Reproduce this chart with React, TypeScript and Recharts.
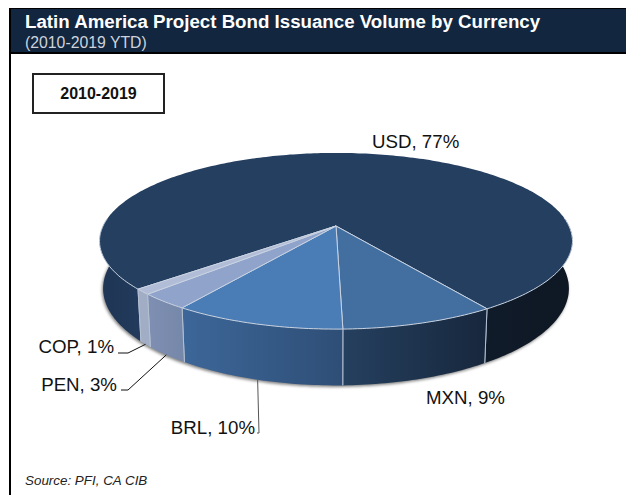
import { Pie, PieChart } from 'recharts';

const currencies = ['USD', 'MXN', 'BRL', 'PEN', 'COP'];
const shares = [77, 9, 10, 3, 1];
const topColors = ['#253f60', '#426fa0', '#4a7cb6', '#8fa3cb', '#b1bdd7'];

const data = currencies.map((name, i) => ({ name, value: shares[i], fill: topColors[i] }));

// wall shading runs left to right across each slice
const wallStops: Record<string, [number, string][]> = {
  USD: [[0, '#1e3555'], [0.08, '#223a5b'], [0.82, '#101b2a'], [1, '#0e1723']],
  MXN: [[0, '#25405f'], [1, '#17273d']],
  BRL: [[0, '#3d6799'], [1, '#2e4e76']],
  PEN: [[0, '#7e8fb3'], [1, '#7688a9']],
  COP: [[0, '#a1adc5'], [1, '#a1adc5']],
};

const labelSpots: Record<string, { x: number; y: number; anchor: 'start' | 'end'; elbow?: [number, number][] }> = {
  USD: { x: 372, y: 148, anchor: 'start' },
  MXN: { x: 426, y: 404, anchor: 'start' },
  BRL: { x: 255, y: 434, anchor: 'end', elbow: [[259, 433], [257, 433]] },
  PEN: { x: 117, y: 391, anchor: 'end', elbow: [[128, 390], [121, 390]] },
  COP: { x: 114, y: 353, anchor: 'end', elbow: [[128, 353], [118, 353]] },
};

const FONT = '"Liberation Sans", Arial, sans-serif';

// perspective of the tilted disc
const TILT = 0.1705;
const SQUASH = 0.367;

function project(cx: number, cy: number, r: number, angle: number) {
  const rad = (-angle * Math.PI) / 180;
  const u = Math.cos(rad);
  const v = Math.sin(rad);
  const d = 1 - TILT * v;
  return { x: cx + (r * u) / d, y: cy + (r * SQUASH * v) / d, v };
}

function lower(cx: number, cy: number, p: { x: number; y: number }) {
  return { x: cx + 0.985 * (p.x - cx), y: p.y + 46 + 0.1 * (p.y - cy) };
}

function angleSteps(start: number, end: number) {
  const n = Math.max(2, Math.ceil(Math.abs(end - start)));
  return Array.from({ length: n + 1 }, (_, i) => start + ((end - start) * i) / n);
}

const pts = (list: { x: number; y: number }[]) => list.map((p) => `${p.x.toFixed(1)},${p.y.toFixed(1)}`).join(' L');

function Slice(props: any) {
  const { cx, cy, outerRadius, startAngle, endAngle, fill, name } = props;
  const rim = angleSteps(startAngle, endAngle).map((a) => project(cx, cy, outerRadius, a));

  // split the rim into the runs that face the viewer
  const runs: (typeof rim)[] = [];
  let run: typeof rim = [];
  rim.forEach((p) => {
    if (p.v > -0.1) run.push(p);
    else if (run.length) {
      runs.push(run);
      run = [];
    }
  });
  if (run.length) runs.push(run);

  const first = rim[0];
  const last = rim[rim.length - 1];
  const gradId = `wall-${name}`;
  const shadow = angleSteps(0, 360).map((a) => lower(cx, cy, project(cx, cy, outerRadius, a)));
  // one path, so the gradient spans both sides of the big slice
  const wall = runs.map((r) => `M${pts(r)} L${pts(r.map((p) => lower(cx, cy, p)).reverse())} Z`).join(' ');

  return (
    <g>
      <defs>
        <linearGradient id={gradId} x1="0" y1="0" x2="1" y2="0">
          {wallStops[name].map(([o, c]) => (
            <stop key={o} offset={o} stopColor={c} />
          ))}
        </linearGradient>
      </defs>
      {name === 'USD' && (
        <path
          d={`M${pts(shadow)} Z`}
          fill="#808080"
          transform="translate(-1 1.5)"
          style={{ filter: 'blur(1.6px)' }}
        />
      )}
      <path d={wall} fill={`url(#${gradId})`} />
      <path d={`M${cx},${cy} L${pts(rim)} Z`} fill={fill} />
      {runs.map((r, i) => (
        <path key={i} d={`M${pts(r)}`} fill="none" stroke="#c9d3e2" strokeWidth={1} />
      ))}
      <path
        d={`M${first.x},${first.y} L${cx},${cy} L${last.x},${last.y}`}
        fill="none"
        stroke="#c9d3e2"
        strokeWidth={1}
      />
      {[first, last].map((p, i) =>
        p.v > 0 ? (
          <line
            key={i}
            x1={p.x}
            y1={p.y}
            x2={lower(cx, cy, p).x}
            y2={lower(cx, cy, p).y}
            stroke="#b4c0d2"
            strokeWidth={1}
          />
        ) : null
      )}
    </g>
  );
}

function SliceLabel(props: any) {
  const { cx, cy, outerRadius, midAngle, payload } = props;
  const spot = labelSpots[payload.name];
  const from = lower(cx, cy, project(cx, cy, outerRadius, midAngle));
  return (
    <g>
      {spot.elbow && (
        <polyline
          points={[[from.x, from.y], ...spot.elbow].map((p) => p.join(',')).join(' ')}
          fill="none"
          stroke={payload.name === 'BRL' ? '#555' : '#111'}
          strokeWidth={1}
        />
      )}
      <text x={spot.x} y={spot.y} textAnchor={spot.anchor} fontFamily={FONT} fontSize={18.7} fill="#111">
        {`${payload.name}, ${payload.value}%`}
      </text>
    </g>
  );
}

export default function App() {
  return (
    <div style={{ position: 'absolute', left: 0, top: 0, width: 626, height: 495, background: '#fff', overflow: 'hidden', fontFamily: FONT }}>
      <div style={{ position: 'absolute', left: 9, top: 8, right: 0, height: 46, background: '#12263f', borderTop: '1px solid #000', borderBottom: '2px solid #000', boxSizing: 'border-box' }} />
      <div style={{ position: 'absolute', left: 9, top: 8, bottom: 0, width: 2, background: '#000' }} />
      <div style={{ position: 'absolute', left: 25, top: 13, color: '#fff', fontWeight: 'bold', fontSize: 18.7, lineHeight: '18px', whiteSpace: 'nowrap' }}>
        Latin America Project Bond Issuance Volume by Currency
      </div>
      <div style={{ position: 'absolute', left: 25, top: 35, color: '#cdd3dc', fontSize: 15.8, lineHeight: '16px', whiteSpace: 'nowrap' }}>
        (2010-2019 YTD)
      </div>
      <div style={{ position: 'absolute', left: 32, top: 73, width: 133, height: 41, border: '2px solid #222', boxSizing: 'border-box', textAlign: 'center', fontWeight: 'bold', fontSize: 16, lineHeight: '37px', color: '#111' }}>
        2010-2019
      </div>
      <div style={{ position: 'absolute', left: 25, top: 474, fontStyle: 'italic', fontSize: 13.4, lineHeight: '14px', color: '#222' }}>
        Source: PFI, CA CIB
      </div>
      <div style={{ position: 'absolute', left: 0, top: 0 }}>
        <PieChart width={626} height={495} margin={{ top: 0, right: 0, bottom: 0, left: 0 }}>
          <Pie
            data={data}
            dataKey="value"
            nameKey="name"
            cx={336}
            cy={226}
            innerRadius={0}
            outerRadius={233}
            startAngle={221}
            endAngle={-139}
            stroke="none"
            isAnimationActive={false}
            shape={Slice}
            label={SliceLabel}
            labelLine={false}
          />
        </PieChart>
      </div>
    </div>
  );
}
